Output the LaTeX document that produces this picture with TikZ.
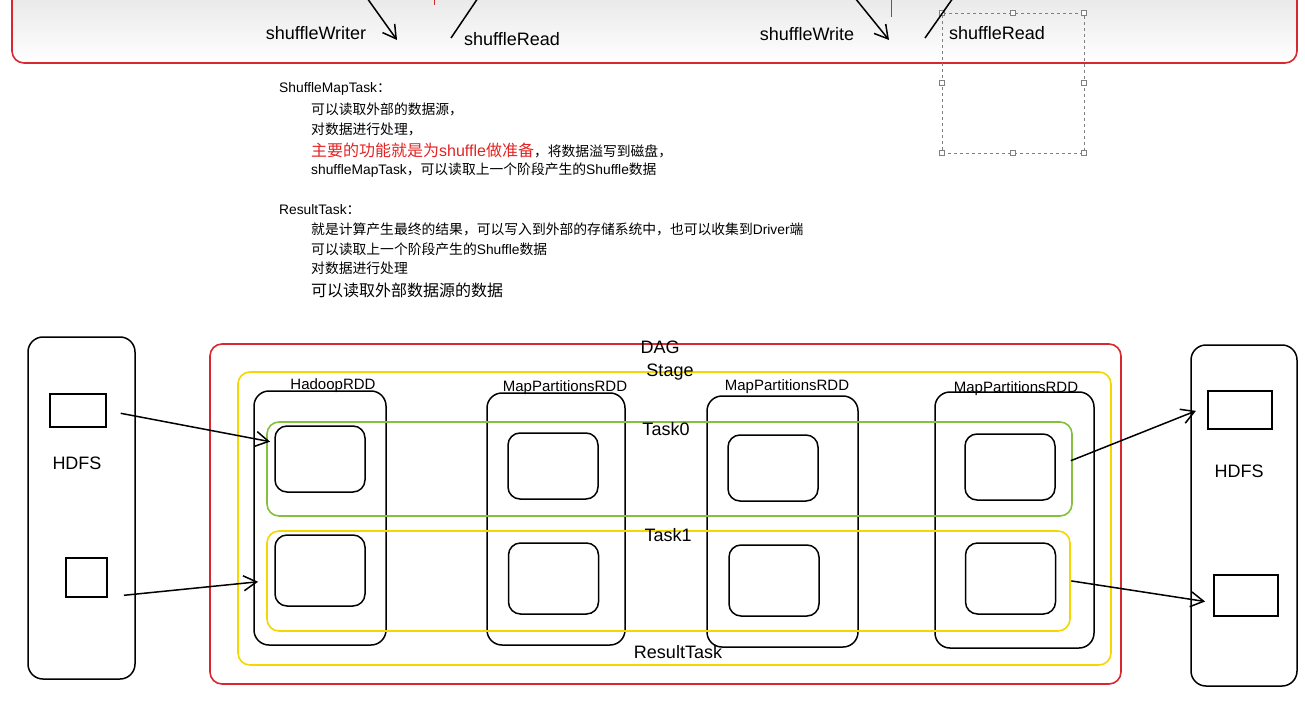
\documentclass[tikz,border=0pt]{standalone}
\usepackage{fontspec}
\setmainfont{Liberation Sans}
\newfontfamily\cjk{Noto Sans CJK SC}
\usepackage{tikz}
\usetikzlibrary{arrows.meta}
\tikzset{>={Straight Barb[width=15pt,length=13pt]}}
\definecolor{dagred}{RGB}{214,40,46}
\definecolor{stageyellow}{RGB}{246,214,0}
\definecolor{taskgreen}{RGB}{132,192,62}
\definecolor{notered}{RGB}{228,34,34}

\begin{document}
\begin{tikzpicture}[
    x = 1pt, y = -1pt,
    sized/.style 2 args = {minimum width=#1pt, minimum height=#2pt},
    box/.style = {draw, line width=1.5pt, inner sep=0pt, outer sep=0pt},
    store/.style = {box, rounded corners=15pt},
    rdd/.style = {box, rounded corners=15pt},
    part/.style = {box, rounded corners=12pt, sized={90}{#1}},
    frame/.style = {box, rounded corners=12pt, line width=1.6pt},
    handle/.style = {draw=gray, fill=white, line width=0.6pt,
        minimum size=5pt, inner sep=0pt},
    lab/.style = {inner sep=0pt, font=\fontsize{18}{21}\selectfont},
    rddlab/.style = {inner sep=0pt, font=\fontsize{15}{18}\selectfont},
    note/.style = {anchor=west, inner sep=0pt, font=\fontsize{13.8}{16}\selectfont},
    conn/.style = {->, line width=1.5pt}
  ]
  \useasboundingbox (0,0) rectangle (1305,711);

  % top part of the slide
  \node[frame, draw=dagred, top color=black!13, bottom color=white,
    sized={1285}{100}] (top) at (654.5,13) {};
  \draw[dagred, line width=1pt] (434,0) -- (434,5);
  \draw[dagred, line width=1pt] (891,0) -- (891,17);
  \node[box, draw=gray, line width=0.8pt, dashed, sized={142}{140}] (sel) at (1013,83) {};
  \foreach \a in {north west,north,north east,east,south east,south,south west,west}
  \node[handle] at (sel.\a) {};

  \node[lab] (sw1) at (316,33) {shuffleWriter};
  \node[lab] (sr1) at (512,39) {shuffleRead};
  \node[lab] (sw2) at (807,34) {shuffleWrite};
  \node[lab] (sr2) at (997,33) {shuffleRead};
  \coordinate (w1a) at (367,-2);
  \coordinate (w1b) at (397,40);
  \coordinate (r1a) at (478,-2);
  \coordinate (r1b) at (451,38);
  \coordinate (w2a) at (855,-2);
  \coordinate (w2b) at (889,40);
  \coordinate (r2a) at (953,-2);
  \coordinate (r2b) at (925,38);
  \draw[conn] (w1a) -- (w1b);
  \draw[line width=1.5pt] (r1a) -- (r1b);
  \draw[conn] (w2a) -- (w2b);
  \draw[line width=1.5pt] (r2a) -- (r2b);

  % notes
  \node[note] (smt) at (279,89) {ShuffleMapTask{\cjk ：}};
  \node[note] (smt1) at (311,109) {\cjk 可以读取外部的数据源，};
  \node[note] (smt2) at (311,129) {\cjk 对数据进行处理，};
  \node[note] (smt3) at (311,150) {{\fontsize{16}{19}\selectfont\color{notered}{\cjk 主要的功能就是为}shuffle{\cjk 做准备}}{\cjk ，将数据溢写到磁盘，}};
  \node[note] (smt4) at (311,170) {shuffleMapTask{\cjk ，可以读取上一个阶段产生的}Shuffle{\cjk 数据}};

  \node[note] (rt) at (279,210) {ResultTask{\cjk ：}};
  \node[note] (rt1) at (311,229) {{\cjk 就是计算产生最终的结果，可以写入到外部的存储系统中，也可以收集到}Driver{\cjk 端}};
  \node[note] (rt2) at (311,249) {{\cjk 可以读取上一个阶段产生的}Shuffle{\cjk 数据}};
  \node[note] (rt3) at (311,268) {\cjk 对数据进行处理};
  \node[note, font=\fontsize{16}{19}\selectfont] (rt4) at (311,290) {\cjk 可以读取外部数据源的数据};

  % HDFS on both sides
  \node[store, sized={107}{342}] (hdfsL) at (81.5,508) {};
  \node[box, sized={56}{33}] (in0) at (78,410.5) {};
  \node[box, sized={41}{39}] (in1) at (86.5,577.5) {};
  \node[lab] (hdfsLlab) at (77,463) {HDFS};

  \node[store, sized={106}{341}] (hdfsR) at (1244,515.5) {};
  \node[box, sized={64}{38}] (out0) at (1240,410) {};
  \node[box, sized={64}{41}] (out1) at (1246,595.5) {};
  \node[lab] (hdfsRlab) at (1239,471) {HDFS};

  % DAG and stage
  \node[frame, draw=dagred, sized={911}{340}] (dag) at (665.5,514) {};
  \node[frame, draw=stageyellow, sized={873}{293}] (stage) at (674.5,518.5) {};

  \foreach \x/\y/\w/\h/\lx/\ly/\t [count=\i from 0] in
    {320/518/132/254/333/386/HadoopRDD,
     556/519/138/252/565/388/MapPartitionsRDD,
     782.5/521.5/151/251/787/387/MapPartitionsRDD,
     1014.5/520/159/256/1016/389/MapPartitionsRDD}
  {
    \node[rdd, sized={\w}{\h}] (r\i) at (\x,\y) {};
    \node[rddlab] (r\i lab) at (\lx,\ly) {\t};
  }

  \foreach \x/\y [count=\i from 0] in {320/459, 553/466, 773/468, 1010/467}
  \node[part=66] (p0\i) at (\x,\y) {};
  \foreach \x/\y [count=\i from 0] in {320/570.5, 553.5/578.5, 774/580.5, 1010.5/578.5}
  \node[part=71] (p1\i) at (\x,\y) {};

  \node[frame, draw=taskgreen, sized={805}{94}] (task0) at (669.5,469) {};
  \node[frame, draw=stageyellow, sized={803}{100}] (task1) at (668.5,581) {};

  \node[lab] (daglab) at (660,347) {DAG};
  \node[lab] (stagelab) at (670,372) {Stage};
  \node[lab] (task0lab) at (666,429) {Task0};
  \node[lab] (task1lab) at (668,535) {Task1};
  \node[lab] (resultlab) at (678,652) {ResultTask};

  % data flow
  \draw[conn, shorten <=15pt, shorten >=5pt] (in0.east) -- (p00.160);
  \draw[conn, shorten <=17pt, shorten >=17pt] (in1.south east) -- (p10.192);
  \draw[conn, shorten <=17pt, shorten >=13pt] (p03.east) -- (out0.173);
  \draw[conn, shorten <=16pt, shorten >=9pt] (p13.east) -- (out1.193);
\end{tikzpicture}
\end{document}
